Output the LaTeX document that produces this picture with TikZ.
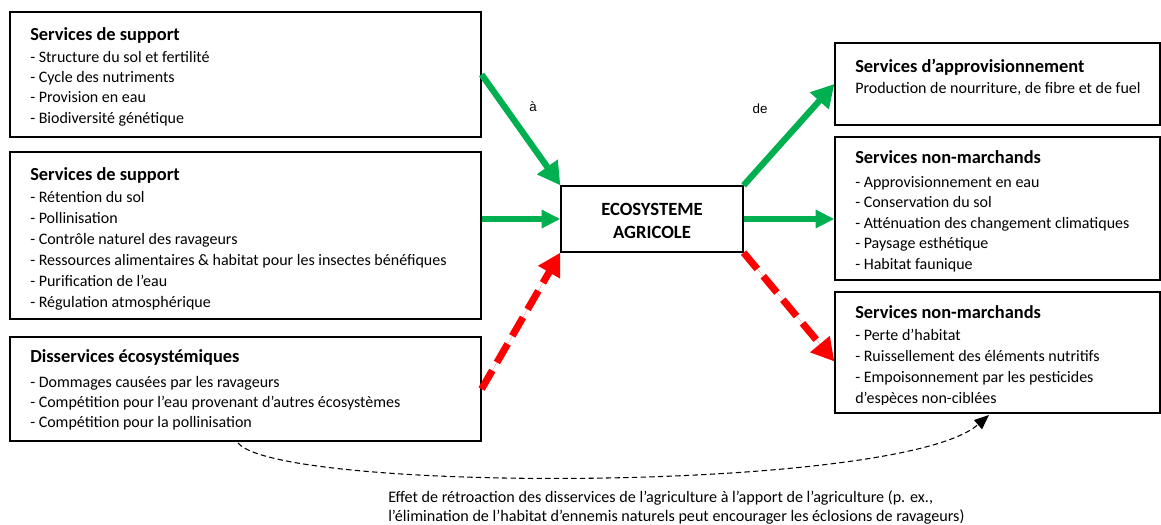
\documentclass[tikz,border=0pt]{standalone}
\usepackage{fontspec}
\setmainfont{Carlito}
\newfontfamily\arialfont{Liberation Sans}
\usetikzlibrary{arrows.meta,fit,calc}
\definecolor{offgreen}{RGB}{0,176,80}
\definecolor{offred}{RGB}{255,0,0}
\begin{document}
\begin{tikzpicture}[x=0.75pt,y=-0.75pt,
  box/.style={draw=black,line width=0.9pt,inner sep=0pt},
  ttl/.style={anchor=base west,font=\bfseries\fontsize{13.8}{16}\selectfont,inner sep=0pt},
  itm/.style={anchor=base west,font=\fontsize{12}{14}\selectfont,inner sep=0pt},
  ctr/.style={anchor=base,font=\bfseries\fontsize{14}{16}\selectfont,inner sep=0pt},
  lbl/.style={font=\arialfont\fontsize{10}{12}\selectfont,inner sep=0pt},
  note/.style={anchor=base west,font=\fontsize{12.1}{14}\selectfont,inner sep=0pt},
  garrowd/.style={draw=offgreen,fill=offgreen,line width=4.7pt,-{Triangle[length=17pt,width=18pt]}},
  garrowh/.style={draw=offgreen,fill=offgreen,line width=4.7pt,-{Triangle[length=14pt,width=13pt]}},
  rarrow/.style={draw=offred,fill=offred,line width=5.3pt,dash pattern=on 16pt off 7pt,-{Triangle[length=17pt,width=18pt]}},
  fbarrow/.style={draw=black,line width=0.8pt,dash pattern=on 4pt off 2.5pt,-{Triangle[length=11pt,width=9pt]}}
]
\useasboundingbox (0,0) rectangle (1161,525);

% boxes
\node[box,fit={(10,12) (481,137)}] (b1) {};
\node[box,fit={(10,152) (481,319)}] (b2) {};
\node[box,fit={(10,337) (481,441)}] (b3) {};
\node[box,fit={(561,186) (743,252)}] (c) {};
\node[box,fit={(835,43) (1160,125)}] (r1) {};
\node[box,fit={(835,137) (1160,280)}] (r2) {};
\node[box,fit={(835,292) (1160,413)}] (r3) {};

% box 1
\begin{scope}
\clip (10,12) rectangle (481,125.5);
\node[ttl] (b1t) at (30,40) {Services de support};
\foreach \t [count=\i] in {{- Structure du sol et fertilité},{- Cycle des nutriments},{- Provision en eau},{- Biodiversité génétique}}
  \node[itm] (b1i\i) at (30,{62+(\i-1)*20.4}) {\t};
\end{scope}

% box 2
\begin{scope}
\clip (10,152) rectangle (481,309);
\node[ttl] (b2t) at (30,180) {Services de support};
\foreach \t [count=\i] in {{- Rétention du sol},{- Pollinisation},{- Contrôle naturel des ravageurs},{- Ressources alimentaires \& habitat pour les insectes bénéfiques},{- Purification de l’eau},{- Régulation atmosphérique}}
  \node[itm] (b2i\i) at (30,{202+(\i-1)*21}) {\t};
\end{scope}

% box 3
\node[ttl] (b3t) at (30,362) {Disservices écosystémiques};
\foreach \t [count=\i] in {{- Dommages causées par les ravageurs},{- Compétition pour l’eau provenant d’autres écosystèmes},{- Compétition pour la pollinisation}}
  \node[itm] (b3i\i) at (30,{387+(\i-1)*20}) {\t};

% centre
\node[ctr] (c1) at (652,215) {ECOSYSTEME};
\node[ctr] (c2) at (652,238) {AGRICOLE};

% right 1
\node[ttl] (r1t) at (855,72) {Services d’approvisionnement};
\node[itm] (r1i) at (855,93) {Production de nourriture, de fibre et de fuel};

% right 2
\begin{scope}
\clip (835,137) rectangle (1160,271);
\node[ttl] (r2t) at (855,163) {Services non-marchands};
\foreach \t [count=\i] in {{- Approvisionnement en eau},{- Conservation du sol},{- Atténuation des changement climatiques},{- Paysage esthétique},{- Habitat faunique}}
  \node[itm] (r2i\i) at (855,{187+(\i-1)*20.5}) {\t};
\end{scope}

% right 3
\begin{scope}
\clip (835,292) rectangle (1160,404.5);
\node[ttl] (r3t) at (855,318) {Services non-marchands};
\foreach \t [count=\i] in {{- Perte d’habitat},{- Ruissellement des éléments nutritifs},{- Empoisonnement par les pesticides},{d’espèces non-ciblées}}
  \node[itm] (r3i\i) at (855,{340+(\i-1)*21}) {\t};
\end{scope}

% labels
\node[lbl] (la) at (533,107) {à};
\node[lbl] (lde) at (760,109) {de};

% arrows
\draw[garrowd] (b1.east) -- (c.north west);
\draw[garrowh] (b2.east |- c.west) -- (c.west);
\draw[rarrow] (b3.east) -- (c.south west);
\draw[garrowd] (c.north east) -- (r1.west);
\draw[garrowh] (c.east) -- (r2.west |- c.east);
\draw[rarrow] (c.south east) -- ($(r3.west)+(0,9)$);

% feedback
\coordinate (fbs) at (238,443);
\coordinate (fbe) at (989,415);
\draw[fbarrow] (fbs) .. controls (280,493) and (900,493) .. (fbe);

\node[note] (n1) at (388,502) {Effet de rétroaction des disservices de l’agriculture à l’apport de l’agriculture (p. ex.,};
\node[note] (n2) at (388,521) {l’élimination de l’habitat d’ennemis naturels peut encourager les éclosions de ravageurs)};
\end{tikzpicture}
\end{document}
